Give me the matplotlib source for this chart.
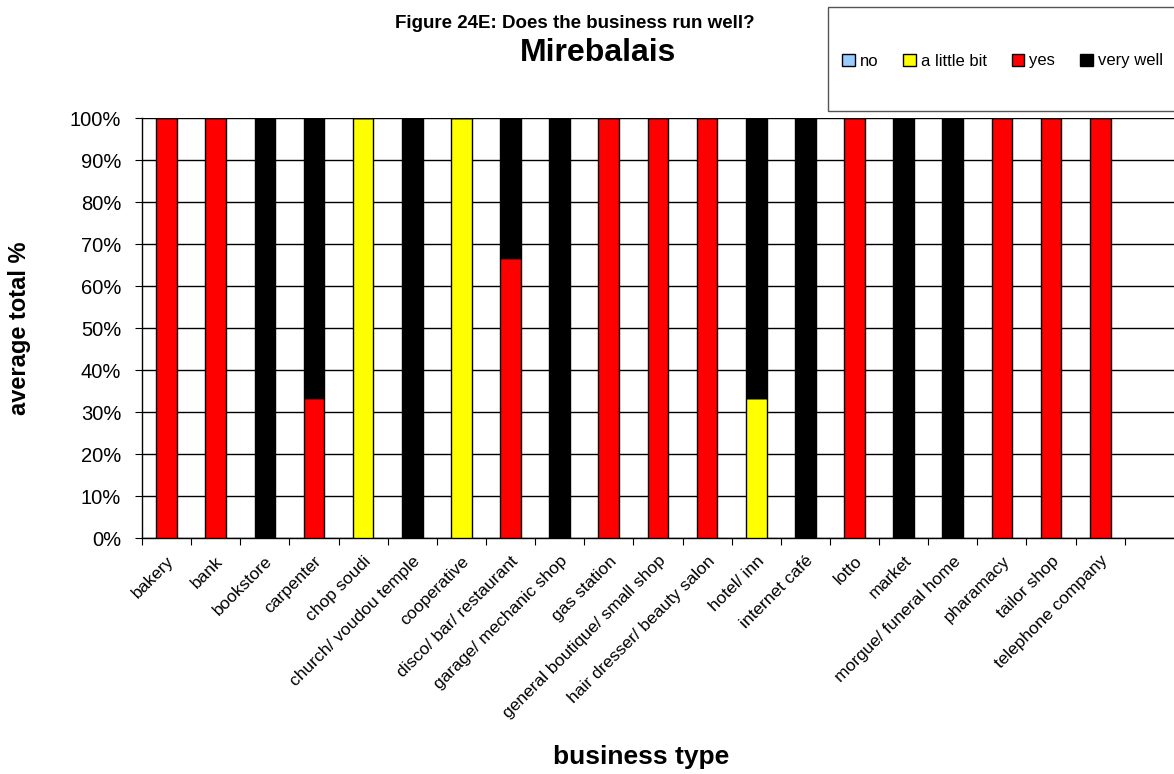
import numpy as np
import matplotlib
matplotlib.use("Agg")
import matplotlib.pyplot as plt
from matplotlib.patches import Rectangle

plt.rcParams['font.family'] = ['Liberation Sans', 'DejaVu Sans']

categories = ["bakery", "bank", "bookstore", "carpenter", "chop soudi",
              "church/ voudou temple", "cooperative", "disco/ bar/ restaurant",
              "garage/ mechanic shop", "gas station", "general boutique/ small shop",
              "hair dresser/ beauty salon", "hotel/ inn", "internet café", "lotto",
              "market", "morgue/ funeral home", "pharamacy", "tailor shop",
              "telephone company"]

no = [0, 0, 0, 0, 0, 0, 0, 0, 0, 0, 0, 0, 0, 0, 0, 0, 0, 0, 0, 0]
a_little_bit = [0, 0, 0, 0, 100, 0, 100, 0, 0, 0, 0, 0, 33.3, 0, 0, 0, 0, 0, 0, 0]
yes = [100, 100, 0, 33.3, 0, 0, 0, 66.7, 0, 100, 100, 100, 0, 0, 100, 0, 0, 100, 100, 100]
very_well = [0, 0, 100, 66.7, 0, 100, 0, 33.3, 100, 0, 0, 0, 66.7, 100, 0, 100, 100, 0, 0, 0]

series = [("no", no, "#99CCFF"),
          ("a little bit", a_little_bit, "#FFFF00"),
          ("yes", yes, "#FF0000"),
          ("very well", very_well, "#000000")]

fig = plt.figure(figsize=(11.74, 7.74), dpi=100)
ax = fig.add_axes([142 / 1174, 1 - 538 / 774, 1 - 142 / 1174 + 0.002, (538 - 118) / 774])

x = np.arange(len(categories))
bottom = np.zeros(len(categories))
for name, vals, col in series:
    vals = np.array(vals, dtype=float)
    ax.bar(x, vals, 0.42, bottom=bottom, color=col, edgecolor="black",
           linewidth=1, label=name, zorder=3)
    bottom += vals

ax.set_xlim(-0.5, 20.55)
ax.set_ylim(0, 100)
ax.set_yticks(np.arange(0, 101, 10))
ax.set_yticklabels([f"{v}%" for v in range(0, 101, 10)], fontsize=14.5)
ax.yaxis.grid(True, color="black", linewidth=1, zorder=0)
ax.set_axisbelow(True)

ax.set_xticks(np.arange(-0.5, 20.5, 1), minor=False)
ax.set_xticklabels([])
ax.set_xticks(x, minor=True)
ax.set_xticklabels(categories, minor=True, rotation=45, ha="right",
                   rotation_mode="anchor", fontsize=12.5)
ax.tick_params(axis="x", which="minor", length=0, pad=11)
ax.tick_params(axis="x", which="major", length=5, direction="out")
ax.tick_params(axis="y", length=5, direction="out", pad=10)

for s in ["top", "right"]:
    ax.spines[s].set_visible(False)
ax.spines["left"].set_linewidth(1)
ax.spines["bottom"].set_linewidth(1)

fig.text(575 / 1174, 1 - 24 / 774, "Figure 24E: Does the business run well?",
         ha="center", va="center", fontsize=13.5, fontweight="bold")
fig.text(598 / 1174, 1 - 53 / 774, "Mirebalais",
         ha="center", va="center", fontsize=23, fontweight="bold")

fig.text(641 / 1174, 1 - 757 / 774, "business type", ha="center", va="center",
         fontsize=19, fontweight="bold")
fig.text(20 / 1174, 1 - 328 / 774, "average total %", ha="center", va="center",
         rotation=90, fontsize=17, fontweight="bold")

# legend box
fig.patches.append(Rectangle((828 / 1174, 1 - 111 / 774), 0.3, 104 / 774,
                             transform=fig.transFigure, facecolor="white",
                             edgecolor="#555555", linewidth=1))
handles, labels = ax.get_legend_handles_labels()
fig.legend(handles, labels, loc="center left",
           bbox_to_anchor=(834 / 1174, 1 - 61 / 774), ncol=4, frameon=False,
           fontsize=12, handlelength=0.75, handleheight=0.75,
           handletextpad=0.3, columnspacing=1.5, borderpad=0)

fig.savefig("out.png", dpi=100)
